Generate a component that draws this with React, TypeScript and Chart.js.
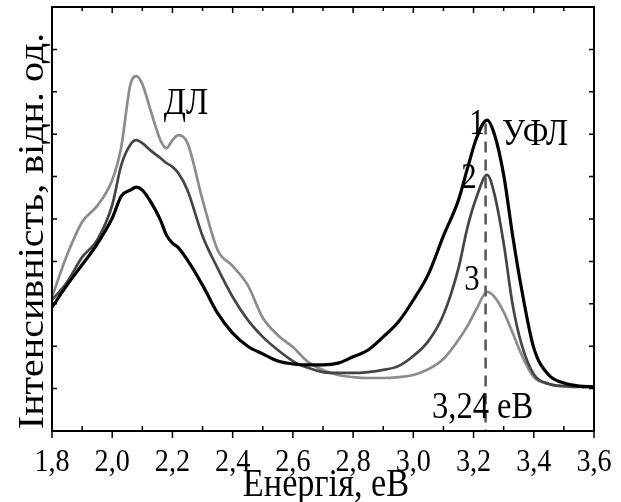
import React, { useEffect, useRef } from "react";
import { Chart, registerables } from "chart.js";

Chart.register(...registerables);

// Photon energy, eV
const energy = [
  1.8, 1.85, 1.9, 1.95, 2.0, 2.03, 2.06, 2.08, 2.1, 2.13, 2.16, 2.18, 2.2, 2.22, 2.25,
  2.3, 2.35, 2.4, 2.45, 2.5, 2.55, 2.6, 2.65, 2.7, 2.75, 2.8, 2.85, 2.9, 2.95, 3.0,
  3.05, 3.1, 3.15, 3.18, 3.21, 3.245, 3.27, 3.3, 3.33, 3.36, 3.4, 3.45, 3.5, 3.55, 3.6,
];

// Curve 1 (black)
const curve1 = [
  29.2, 34.4, 39.2, 44.1, 50.2, 55.4, 56.8, 57.5, 56.8, 53.8, 49.8, 46.2, 44.3, 43.2, 40.3,
  34.4, 27.8, 23.1, 20.0, 18.2, 16.5, 15.8, 15.6, 15.6, 16.0, 17.5, 19.1, 22.2, 25.7, 30.9,
  37.0, 46.0, 54.5, 62.0, 69.1, 73.3, 69.8, 60.4, 46.0, 33.3, 19.6, 13.2, 11.3, 10.6, 10.4,
];

// Curve 2 (dark grey)
const curve2 = [
  30.9, 35.1, 41.0, 45.0, 53.3, 62.7, 67.5, 68.6, 67.9, 66.0, 64.4, 63.2, 62.3, 60.8, 56.8,
  46.0, 38.4, 31.6, 26.2, 22.2, 19.1, 16.5, 14.9, 13.9, 13.7, 13.7, 13.9, 14.4, 15.3, 17.7,
  21.2, 27.4, 38.4, 48.1, 55.2, 60.4, 55.7, 44.3, 29.7, 20.3, 13.4, 11.1, 10.6, 10.4, 10.4,
];

// Curve 3 (light grey)
const curve3 = [
  31.6, 41.5, 49.3, 53.1, 59.2, 67.0, 81.6, 83.7, 81.8, 75.0, 68.6, 66.7, 68.6, 69.8, 67.9,
  54.5, 42.7, 38.9, 34.4, 26.7, 22.6, 19.8, 16.3, 14.4, 13.2, 12.7, 12.5, 12.5, 12.7, 13.2,
  14.6, 17.0, 21.5, 24.8, 28.8, 32.8, 31.6, 28.1, 23.1, 17.9, 12.7, 11.1, 10.6, 10.6, 10.4,
];

const xTickValues = [1.8, 2.0, 2.2, 2.4, 2.6, 2.8, 3.0, 3.2, 3.4, 3.6];
const xTickLabels = ["1,8", "2,0", "2,2", "2,4", "2,6", "2,8", "3,0", "3,2", "3,4", "3,6"];
const xMinorValues = [1.9, 2.1, 2.3, 2.5, 2.7, 2.9, 3.1, 3.3, 3.5];
const yTickValues = [10, 20, 30, 40, 50, 60, 70, 80, 90];

const peakEnergy = 3.24;
const dashTopValue = 72.5;

const xTitle = "Енергія, еВ";
const yTitle = "Інтенсивність, відн. од.";
const peakLabel = "3,24 еВ";

const FONT = "'Liberation Serif', 'Times New Roman', Times, 'DejaVu Serif', serif";
const SX = 0.88;

function drawText(
  ctx: CanvasRenderingContext2D,
  text: string,
  x: number,
  y: number,
  size: number,
  align: CanvasTextAlign = "center",
  rotate = 0
) {
  ctx.save();
  ctx.translate(x, y);
  if (rotate) ctx.rotate(rotate);
  if (rotate) ctx.scale(1, SX);
  else ctx.scale(SX, 1);
  ctx.font = `${size}px ${FONT}`;
  ctx.fillStyle = "#000";
  ctx.textAlign = align;
  ctx.textBaseline = "alphabetic";
  ctx.fillText(text, 0, 0);
  ctx.restore();
}

const framePlugin = {
  id: "frame",
  afterDraw(chart: any) {
    const { ctx, chartArea: a, scales } = chart;
    const xs = scales.x;
    const ys = scales.y;
    ctx.save();

    // dashed marker line
    const px = xs.getPixelForValue(peakEnergy);
    ctx.strokeStyle = "#555";
    ctx.lineWidth = 2.5;
    ctx.setLineDash([11, 7]);
    ctx.beginPath();
    ctx.moveTo(px, ys.getPixelForValue(dashTopValue));
    ctx.lineTo(px, a.bottom);
    ctx.stroke();
    ctx.setLineDash([]);

    // frame
    ctx.strokeStyle = "#000";
    ctx.lineWidth = 2;
    ctx.strokeRect(a.left, a.top, a.right - a.left, a.bottom - a.top);

    ctx.lineWidth = 1.5;
    ctx.beginPath();
    for (const v of xTickValues) {
      const p = xs.getPixelForValue(v);
      ctx.moveTo(p, a.bottom);
      ctx.lineTo(p, a.bottom + 7);
      ctx.moveTo(p, a.top);
      ctx.lineTo(p, a.top + 6);
    }
    for (const v of xMinorValues) {
      const p = xs.getPixelForValue(v);
      ctx.moveTo(p, a.bottom);
      ctx.lineTo(p, a.bottom - 5);
      ctx.moveTo(p, a.top);
      ctx.lineTo(p, a.top + 4);
    }
    for (const v of yTickValues) {
      const p = ys.getPixelForValue(v);
      ctx.moveTo(a.left, p);
      ctx.lineTo(a.left + 5, p);
      ctx.moveTo(a.right, p);
      ctx.lineTo(a.right - 5, p);
    }
    ctx.stroke();

    // tick labels
    xTickValues.forEach((v, i) => {
      drawText(ctx, xTickLabels[i], xs.getPixelForValue(v), a.bottom + 40, 32);
    });

    // axis titles
    drawText(ctx, xTitle, (a.left + a.right) / 2 + 3, 496, 39);
    drawText(ctx, yTitle, 43, (a.top + a.bottom) / 2 + 12, 40, "center", -Math.PI / 2);

    // annotations
    drawText(ctx, "ДЛ", 186, 114, 37);
    drawText(ctx, "1", 477, 134, 35);
    drawText(ctx, "2", 469, 188, 35);
    drawText(ctx, "3", 472, 290, 35);
    drawText(ctx, "УФЛ", 535, 145, 37);
    drawText(ctx, peakLabel, px - 3, 418, 37);

    ctx.restore();
  },
};

export default function App() {
  const ref = useRef<HTMLCanvasElement | null>(null);

  useEffect(() => {
    document.body.style.margin = "0";
    if (!ref.current) return;
    const mk = (vals: number[]) => energy.map((e, i) => ({ x: e, y: vals[i] }));
    const chart = new Chart(ref.current, {
      type: "line",
      data: {
        datasets: [
          {
            label: "1",
            data: mk(curve1),
            borderColor: "#000000",
            borderWidth: 3.2,
            order: 0,
          },
          {
            label: "2",
            data: mk(curve2),
            borderColor: "#454545",
            borderWidth: 2.7,
            order: 1,
          },
          {
            label: "3",
            data: mk(curve3),
            borderColor: "#8c8c8c",
            borderWidth: 2.7,
            order: 2,
          },
        ],
      },
      options: {
        animation: false,
        responsive: false,
        maintainAspectRatio: false,
        elements: {
          point: { radius: 0 },
          line: { cubicInterpolationMode: "monotone", fill: false },
        },
        layout: { padding: { left: 0, top: 7, right: 27, bottom: 0 } },
        plugins: {
          legend: { display: false },
          tooltip: { enabled: false },
          title: { display: false },
        },
        scales: {
          x: {
            type: "linear",
            min: 1.8,
            max: 3.6,
            ticks: { display: false },
            grid: { display: false },
            border: { display: false },
            afterFit: (s: any) => {
              s.height = 71;
            },
          },
          y: {
            type: "linear",
            min: 0,
            max: 100,
            ticks: { display: false },
            grid: { display: false },
            border: { display: false },
            afterFit: (s: any) => {
              s.width = 52;
            },
          },
        },
      },
      plugins: [framePlugin],
    });
    return () => chart.destroy();
  }, []);

  return (
    <div style={{ position: "absolute", left: 0, top: 0, width: 621, height: 502 }}>
      <canvas ref={ref} width={621} height={502} style={{ width: 621, height: 502, display: "block" }} />
    </div>
  );
}
